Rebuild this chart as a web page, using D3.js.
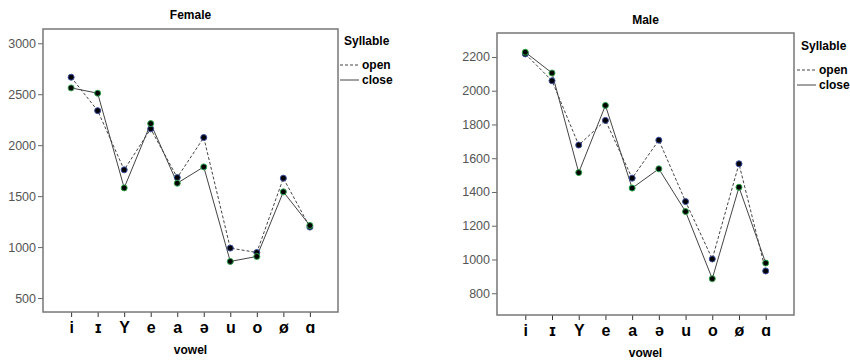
<!DOCTYPE html>
<html>
<head>
<meta charset="utf-8">
<script src="https://cdn.jsdelivr.net/npm/d3@7"></script>
<style>
  body { margin: 0; background: #fff; }
  svg { font-family: "Liberation Sans", Arial, "DejaVu Sans", sans-serif; }
</style>
</head>
<body>
<svg id="chart" width="850" height="361"></svg>
<script>
// vowel categories along the x axis
const vowels = ["i", "ɪ", "Y", "e", "a", "ə", "u", "o", "ø", "ɑ"];

// mean values
const femaleOpen  = [2667, 2339, 1758, 2160, 1682, 2075, 990, 947, 1676, 1196];
const femaleClose = [2562, 2510, 1581, 2212, 1627, 1787, 859, 908, 1542, 1212];
const maleOpen    = [2218, 2059, 1678, 1824, 1482, 1707, 1343, 1003, 1567, 932];
const maleClose   = [2228, 2105, 1515, 1913, 1423, 1537, 1284, 886, 1428, 979];

const femaleTicks = [500, 1000, 1500, 2000, 2500, 3000];
const maleTicks   = [800, 1000, 1200, 1400, 1600, 1800, 2000, 2200];

const legendItems = ["open", "close"];

let svg = d3.select("#chart");

// draws one panel (frame, axes, two lines, dots, legend)
function drawPanel(cfg) {
    let x = d3.scalePoint().domain(vowels).range([cfg.left, cfg.right]).padding(1.06);
    let y = d3.scaleLinear().domain(cfg.domain).range([cfg.bottom, cfg.top]);

    let g = svg.append("g");

    // title
    g.append("text")
        .attr("x", (cfg.left + cfg.right) / 2)
        .attr("y", cfg.titleY)
        .attr("text-anchor", "middle")
        .style("font-size", "12px")
        .style("font-weight", "bold")
        .text(cfg.title);

    // y axis
    let yAxis = g.append("g")
        .attr("transform", "translate(" + cfg.left + ",0)")
        .call(d3.axisLeft(y).tickValues(cfg.ticks).tickSize(5).tickPadding(2).tickFormat(d3.format("d")));
    yAxis.select(".domain").remove();
    yAxis.selectAll("line").attr("stroke", "#666");
    yAxis.selectAll("text").attr("fill", "#555").style("font-size", "12.5px").style("font-family", "inherit");

    // x axis
    let xAxis = g.append("g")
        .attr("transform", "translate(0," + cfg.bottom + ")")
        .call(d3.axisBottom(x).tickSize(5).tickPadding(5));
    xAxis.select(".domain").remove();
    xAxis.selectAll("line").attr("stroke", "#333");
    xAxis.selectAll("text").attr("fill", "#000")
        .style("font-size", "16px").style("font-weight", "bold").style("font-family", "inherit");

    g.append("text")
        .attr("x", (cfg.left + cfg.right) / 2)
        .attr("y", cfg.xLabelY)
        .attr("text-anchor", "middle")
        .style("font-size", "12px")
        .style("font-weight", "bold")
        .text("vowel");

    // frame
    g.append("rect")
        .attr("x", cfg.left).attr("y", cfg.top)
        .attr("width", cfg.right - cfg.left).attr("height", cfg.bottom - cfg.top)
        .attr("fill", "none").attr("stroke", "#777").attr("stroke-width", 1.5);

    let line = d3.line()
        .x(function(d, i) { return x(vowels[i]); })
        .y(function(d) { return y(d); });

    g.append("path").datum(cfg.open)
        .attr("d", line).attr("fill", "none")
        .attr("stroke", "#444").attr("stroke-width", 1)
        .attr("stroke-dasharray", "3,2");
    g.append("path").datum(cfg.close)
        .attr("d", line).attr("fill", "none")
        .attr("stroke", "#444").attr("stroke-width", 1);

    // dots
    g.selectAll(".open-dot").data(cfg.open).enter().append("circle")
        .attr("class", "open-dot")
        .attr("cx", function(d, i) { return x(vowels[i]); })
        .attr("cy", function(d) { return y(d); })
        .attr("r", 3)
        .attr("fill", "#000").attr("stroke", "#3a4fa0").attr("stroke-width", 1);
    g.selectAll(".close-dot").data(cfg.close).enter().append("circle")
        .attr("class", "close-dot")
        .attr("cx", function(d, i) { return x(vowels[i]); })
        .attr("cy", function(d) { return y(d); })
        .attr("r", 3)
        .attr("fill", "#000").attr("stroke", "#2fa84a").attr("stroke-width", 1);

    // legend
    let lg = g.append("g").attr("transform", "translate(" + cfg.legendX + "," + cfg.legendY + ")");
    lg.append("text").attr("x", 4).attr("y", 0)
        .style("font-size", "12px").style("font-weight", "bold").text("Syllable");
    legendItems.forEach(function(name, i) {
        let yy = 20 + i * 15;
        lg.append("line")
            .attr("x1", 0).attr("x2", 19).attr("y1", yy).attr("y2", yy)
            .attr("stroke", "#444").attr("stroke-width", 1)
            .attr("stroke-dasharray", i == 0 ? "3,2" : null);
        lg.append("text").attr("x", 22).attr("y", yy + 4)
            .style("font-size", "12px").style("font-weight", "bold").text(name);
    });
}

drawPanel({
    title: "Female", open: femaleOpen, close: femaleClose, ticks: femaleTicks,
    domain: [363, 3140], left: 43, right: 338, top: 29, bottom: 312,
    titleY: 19, xLabelY: 354, legendX: 340, legendY: 45
});

drawPanel({
    title: "Male", open: maleOpen, close: maleClose, ticks: maleTicks,
    domain: [671, 2342], left: 497, right: 794, top: 33, bottom: 315,
    titleY: 24, xLabelY: 357, legendX: 797, legendY: 50
});
</script>
</body>
</html>
